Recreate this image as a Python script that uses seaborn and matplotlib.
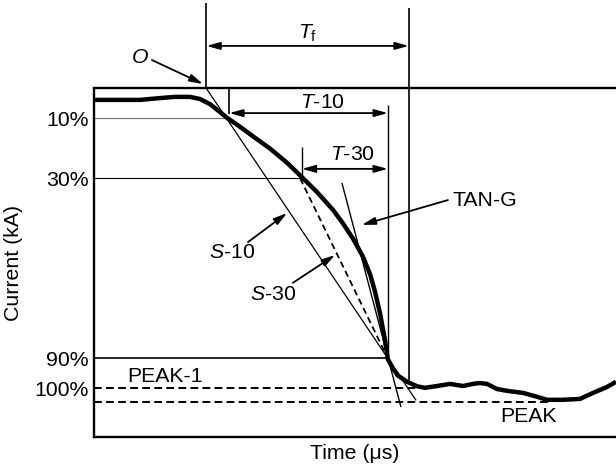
import matplotlib
matplotlib.use("Agg")
import matplotlib.pyplot as plt
import numpy as np
import pandas as pd
import seaborn as sns

# ---------------- data (time in arbitrary µs units, current in % of peak) ----------------
time_us = [0, 5.0, 8.8, 12.6, 15.5, 18.4, 20.3, 22.2, 24.1, 25.5, 28.0, 30.5, 33.7, 37.0,
           39.5, 42.7, 45.8, 47.7, 49.6, 51.5, 52.9, 53.8, 54.8, 55.7, 56.3, 57.3, 58.3,
           60.0, 61.9, 63.4, 65.7, 68.2, 70.7, 72.6, 73.9, 75.3, 77.2, 79.1, 82.2, 84.9,
           86.8, 89.8, 93.1, 95.6, 98.3, 100.0]
current_pct = [3.8, 3.8, 3.8, 3.2, 2.8, 2.8, 3.5, 5.2, 7.8, 9.8, 12.8, 16.0, 20.0, 24.8,
               29.0, 34.5, 40.5, 45.0, 50.0, 56.0, 62.0, 67.5, 75.0, 83.5, 90.3, 93.4, 95.8,
               97.8, 99.3, 99.8, 99.2, 98.5, 99.2, 98.5, 98.2, 98.5, 100.2, 100.8, 101.5,
               102.8, 103.8, 103.8, 103.5, 101.5, 99.5, 97.8]

level_ticks = [10, 30, 90, 100]
level_labels = ["10%", "30%", "90%", "100%"]

t_10 = 25.4          # time at 10 %
t_30 = 39.5          # time at 30 %
t_90 = 56.3          # time at 90 %
t_T10_start = 25.9
t_T30_start = 39.8
t_Tf_end = 60.3
peak1_pct = 100
peak_pct = 104.4
t_peak1_end = 62.5
t_peak = 87.4
tan_g_time = [47.5, 58.8]
tan_g_pct = [31.5, 106.2]

# ---------------- style ----------------
sns.set_theme(style="white")
plt.rcParams["font.family"] = ["Liberation Sans", "DejaVu Sans"]
plt.rcParams["mathtext.fontset"] = "custom"
plt.rcParams["mathtext.rm"] = "Liberation Sans"
plt.rcParams["mathtext.it"] = "Liberation Sans:italic"
FS = 15.3
K = "black"

fig = plt.figure(figsize=(6.16, 4.73), dpi=100)
ax = fig.add_axes([94 / 616, 36 / 473, 522 / 616, 348.5 / 473])

df = pd.DataFrame({"Time": time_us, "Current": current_pct})
sns.lineplot(data=df, x="Time", y="Current", ax=ax, color=K, lw=3.2, sort=False,
             zorder=5)
ax.lines[-1].set_solid_joinstyle("round")
ax.lines[-1].set_solid_capstyle("butt")

ax.set_xlim(0, 100)
ax.set_ylim(116.2, 0)

for s in ["left", "top", "bottom"]:
    ax.spines[s].set_color(K)
    ax.spines[s].set_linewidth(1.7)
ax.spines["right"].set_visible(False)

ax.set_xticks([])
ax.set_yticks(level_ticks, level_labels)
ax.tick_params(axis="y", length=0, pad=4, labelsize=FS, colors=K)
ax.set_xlabel("Time (μs)", fontsize=FS, labelpad=5, color=K)
ax.set_ylabel("Current (kA)", fontsize=FS, labelpad=8, color=K)


def seg(xs, ys, **kw):
    kw.setdefault("color", K)
    kw.setdefault("lw", 0.8)
    ax.plot(xs, ys, clip_on=False, solid_capstyle="butt", **kw)


# level lines
seg([0, t_10], [10, 10], color="#777777", lw=0.9)
seg([0, t_30], [30, 30], lw=0.8)
seg([0, t_90], [90, 90], lw=1.2)
seg([0, t_peak1_end], [peak1_pct, peak1_pct], lw=1.4, ls=(0, (4, 2.2)))
seg([0, t_peak], [peak_pct, peak_pct], lw=1.4, ls=(0, (4, 2.2)))

# S-10 line (through 10 % and 90 % points, from origin 0 % to beyond peak)
slope10 = (t_90 - t_10) / 80.0
t_origin = t_10 - 10 * slope10
seg([t_origin, t_90 + 14 * slope10], [0, 104], lw=0.9)
# S-30 dashed (through 30 % and 90 % points)
slope30 = (t_90 - t_30) / 60.0
seg([t_30, t_90 + 6 * slope30], [30, 96], lw=1.3, ls=(0, (3.5, 2.2)))
# TAN-G
seg(tan_g_time, tan_g_pct, lw=1.0)

# vertical markers
seg([t_origin, t_origin], [-28.5, 0], lw=1.2)
seg([t_Tf_end, t_Tf_end], [-26.8, 97.8], lw=1.2)
seg([t_T10_start, t_T10_start], [0, 8.5], lw=1.2)
seg([t_T30_start, t_T30_start], [19.5, 29.5], lw=1.0)
seg([t_90, t_90], [5.5, 90], lw=1.0)


# dimension arrows
def dim(x0, x1, y):
    ax.annotate("", xy=(x1, y), xytext=(x0, y),
                arrowprops=dict(arrowstyle="<|-|>,head_length=0.8,head_width=0.22",
                                color=K, lw=1.3, shrinkA=0, shrinkB=0,
                                mutation_scale=10),
                annotation_clip=False)


dim(t_origin, t_Tf_end, -14.2)
dim(t_T10_start, t_90, 8.2)
dim(t_T30_start, t_90, 26.8)


def pointer(x0, y0, x1, y1):
    ax.annotate("", xy=(x1, y1), xytext=(x0, y0),
                arrowprops=dict(arrowstyle="-|>,head_length=0.8,head_width=0.22",
                                color=K, lw=1.3, shrinkA=0, shrinkB=0,
                                mutation_scale=10),
                annotation_clip=False)


pointer(11.1, -9.5, 20.9, -1.5)      # O
pointer(67.8, 37.2, 51.3, 45.5)      # TAN-G
pointer(29.5, 51.2, 37.0, 41.5)      # S-10
pointer(38.1, 64.8, 46.2, 55.5)      # S-30


# labels
def lab(x, y, s, ha="center"):
    ax.text(x, y, s, fontsize=FS, ha=ha, va="center", color=K, clip_on=False)


lab(41.0, -18.5, r"$T_{\mathrm{f}}$")
lab(8.8, -10.5, r"$\mathit{O}$")
lab(43.7, 4.6, r"$\mathit{T}$-10")
lab(49.6, 22.0, r"$\mathit{T}$-30")
lab(68.6, 37.2, "TAN-G", ha="left")
lab(26.4, 54.8, r"$\mathit{S}$-10")
lab(34.3, 68.8, r"$\mathit{S}$-30")
lab(13.6, 96.0, "PEAK-1")
lab(83.2, 109.5, "PEAK")

fig.savefig("out.png", dpi=100)
